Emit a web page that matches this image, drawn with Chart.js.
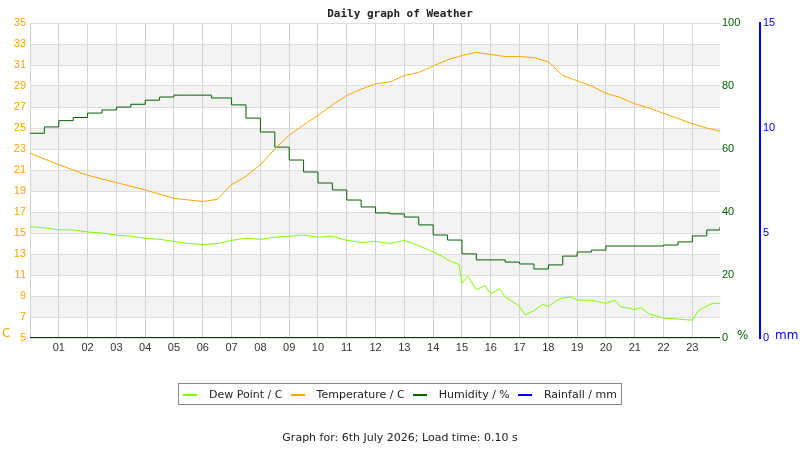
<!DOCTYPE html>
<html>
<head>
<meta charset="utf-8">
<script src="https://cdn.jsdelivr.net/npm/chart.js@4"></script>
<style>
  body { margin:0; background:#fff; font-family:"DejaVu Sans", sans-serif; }
  #wrap { position:relative; width:800px; height:450px; }
  #legend { position:absolute; left:178px; top:383px; width:444px; height:22px; border:1px solid #888;
            display:flex; align-items:center; justify-content:space-around; font-size:11px; color:#222; box-sizing:border-box; }
  #legend span i { display:inline-block; width:14px; height:0; border-top:2px solid; vertical-align:middle; margin-right:12px; }
  #foot { position:absolute; top:431px; width:800px; text-align:center; font-size:11px; color:#222; }
</style>
</head>
<body>
<div id="wrap">
  <canvas id="c" width="800" height="450"></canvas>
  <div id="legend">
    <span><i style="border-color:#7cfc00"></i>Dew Point / C</span>
    <span><i style="border-color:#ffa500"></i>Temperature / C</span>
    <span><i style="border-color:#006400"></i>Humidity / %</span>
    <span><i style="border-color:#0000ff"></i>Rainfall / mm</span>
  </div>
  <div id="foot">Graph for: 6th July 2026; Load time: 0.10 s</div>
</div>
<script>
// --- données ---
const tempHours = [0,1,2,3,4,5,6,6.5,7,7.5,8,8.5,9,9.5,10,10.5,11,11.5,12,12.5,13,13.5,14,14.5,15,15.5,16,16.5,17,17.5,18,18.5,19,19.5,20,20.5,21,21.5,22,22.5,23,23.5,23.96];
const tempValues = [22.6,21.5,20.5,19.8,19.1,18.3,18.0,18.2,19.6,20.4,21.5,23.0,24.3,25.3,26.2,27.2,28.1,28.7,29.2,29.4,30.0,30.3,30.9,31.5,31.9,32.2,32.0,31.8,31.8,31.7,31.3,30.0,29.5,29.0,28.3,27.9,27.3,26.9,26.4,25.9,25.4,25.0,24.7];

const humHours = [0,0.5,1,1.5,2,2.5,3,3.5,4,4.5,5,5.5,6,6.3,6.8,7,7.5,8,8.5,9,9.5,10,10.5,11,11.5,12,12.5,13,13.5,14,14.5,15,15.5,16,16.5,17,17.5,18,18.5,19,19.5,20,20.5,21,21.5,22,22.5,23,23.5,23.96];
const humValues = [65,67,69,70,71.4,72.4,73.3,74.2,75.5,76.5,77.1,77.1,77.1,76.2,76.2,74,69.8,65.4,60.6,56.5,52.7,49.2,47,43.8,41.6,39.7,39.4,38.4,35.9,32.7,31.1,26.7,24.8,24.8,24.1,23.5,21.9,23.2,26,27.3,27.9,29.2,29.2,29.2,29.2,29.5,30.5,32.4,34.3,35.2];

const dewHours = [0,0.5,1,1.5,2,2.5,3,3.5,4,4.5,5,5.5,6,6.5,7,7.5,8,8.5,9,9.5,10,10.5,11,11.5,12,12.5,13,13.5,14,14.3,14.6,14.9,15,15.2,15.5,15.8,16,16.3,16.5,16.8,17,17.2,17.5,17.8,18,18.3,18.5,18.8,19,19.5,20,20.3,20.5,21,21.2,21.5,22,22.5,23,23.2,23.4,23.7,23.96];
const dewValues = [15.6,15.5,15.3,15.3,15.1,15.0,14.8,14.7,14.5,14.4,14.2,14.0,13.9,14.0,14.3,14.5,14.4,14.6,14.7,14.8,14.6,14.7,14.3,14.1,14.2,14.0,14.3,13.8,13.2,12.8,12.3,12.0,10.2,10.9,9.6,10.0,9.2,9.7,8.9,8.4,8.0,7.2,7.6,8.2,8.0,8.6,8.8,8.9,8.6,8.6,8.3,8.6,8.0,7.7,7.9,7.3,6.9,6.8,6.7,7.6,7.9,8.3,8.3];

const rainHours = [0,23.96];
const rainValues = [0,0];

const tempTicks = [5,7,9,11,13,15,17,19,21,23,25,27,29,31,33,35];

function pts(xs, ys) { return xs.map((x, i) => ({x: x, y: ys[i]})); }

// bandes grises alternées + unités
const decor = {
  id: 'decor',
  beforeDraw(chart) {
    const {ctx, chartArea:a, scales} = chart;
    const y = scales.y;
    ctx.save();
    ctx.fillStyle = '#f3f3f3';
    for (let v = 7; v < 35; v += 4) {
      ctx.fillRect(a.left, y.getPixelForValue(v + 2), a.right - a.left, y.getPixelForValue(v) - y.getPixelForValue(v + 2));
    }
    ctx.restore();
  },
  afterDraw(chart) {
    const ctx = chart.ctx;
    ctx.save();
    ctx.font = 'bold 11px "DejaVu Sans Mono"';
    ctx.fillStyle = '#222';
    ctx.textAlign = 'center';
    ctx.fillText('Daily graph of Weather', 400, 17);
    ctx.font = '12px "DejaVu Sans"';
    ctx.textAlign = 'left';
    ctx.fillStyle = '#ffa500'; ctx.fillText('C', 2, 337);
    ctx.fillStyle = '#006400'; ctx.fillText('%', 737, 339);
    ctx.fillStyle = '#0000ff'; ctx.fillText('mm', 775, 339);
    ctx.restore();
  }
};

new Chart(document.getElementById('c'), {
  type: 'line',
  data: {
    datasets: [
      { label: 'Rainfall / mm', data: pts(rainHours, rainValues), yAxisID: 'yRain', borderColor: '#0000ff', borderWidth: 2, pointRadius: 0 },
      { label: 'Dew Point / C', data: pts(dewHours, dewValues), yAxisID: 'y', borderColor: '#7cfc00', borderWidth: 1, pointRadius: 0 },
      { label: 'Temperature / C', data: pts(tempHours, tempValues), yAxisID: 'y', borderColor: '#ffa500', borderWidth: 1, pointRadius: 0 },
      { label: 'Humidity / %', data: pts(humHours, humValues), yAxisID: 'yHum', borderColor: '#006400', borderWidth: 1, pointRadius: 0, stepped: true }
    ]
  },
  options: {
    responsive: false,
    animation: false,
    layout: { padding: { top: 23, bottom: 87, left: 0, right: 0 } },
    plugins: { legend: { display: false }, tooltip: { enabled: false } },
    scales: {
      x: {
        type: 'linear', min: 0, max: 23.96,
        afterBuildTicks: s => { s.ticks = []; for (let h = 0; h <= 23; h++) s.ticks.push({value: h}); },
        ticks: { color: '#333', font: { size: 11 }, callback: v => v === 0 ? '' : String(v).padStart(2, '0'), maxRotation: 0, autoSkip: false },
        grid: { color: '#d4d4d4', drawTicks: false },
        border: { display: false },
        afterFit: s => { s.height = 25; }
      },
      y: {
        position: 'left', min: 5, max: 35,
        afterBuildTicks: s => { s.ticks = tempTicks.map(v => ({value: v})); },
        ticks: { color: '#ffa500', font: { size: 11 }, padding: 4 },
        grid: { color: '#dddddd', drawTicks: false },
        border: { display: false },
        afterFit: s => { s.width = 30; }
      },
      yHum: {
        position: 'right', min: 0, max: 100,
        ticks: { stepSize: 20, color: '#006400', font: { size: 11 }, padding: 2 },
        grid: { display: false, drawTicks: false },
        border: { display: false },
        afterFit: s => { s.width = 40; }
      },
      yRain: {
        position: 'right', min: 0, max: 15,
        ticks: { stepSize: 5, color: '#0000ff', font: { size: 11 }, padding: 3 },
        grid: { display: false, drawTicks: false },
        border: { display: true, color: '#0000ff', width: 2 },
        afterFit: s => { s.width = 40; }
      }
    }
  },
  plugins: [decor]
});
</script>
</body>
</html>
